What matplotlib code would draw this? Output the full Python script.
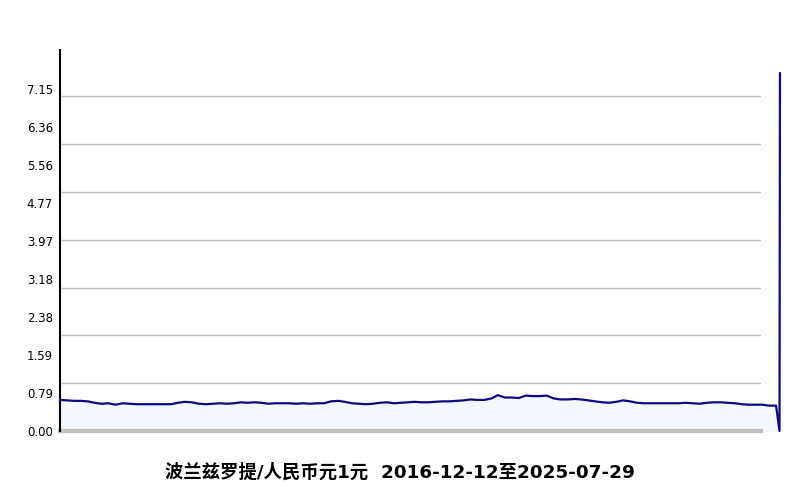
import matplotlib
matplotlib.use("Agg")
import matplotlib.pyplot as plt
import numpy as np
import pandas as pd

plt.rcParams['font.family'] = ['DejaVu Sans', 'Noto Sans CJK SC']

# monthly rate values, 2016-12-12 .. 2025-07-12
rates = [0.65, 0.64, 0.63, 0.63, 0.62, 0.59, 0.57, 0.58, 0.55, 0.58,
         0.57, 0.56, 0.56, 0.56, 0.56, 0.56, 0.56, 0.59, 0.61, 0.60,
         0.57, 0.56, 0.57, 0.58, 0.57, 0.58, 0.60, 0.59, 0.60, 0.59,
         0.57, 0.58, 0.58, 0.58, 0.57, 0.58, 0.57, 0.58, 0.58, 0.62,
         0.63, 0.61, 0.58, 0.57, 0.56, 0.57, 0.59, 0.60, 0.58, 0.59,
         0.60, 0.61, 0.60, 0.60, 0.61, 0.62, 0.62, 0.63, 0.64, 0.66,
         0.65, 0.65, 0.68, 0.75, 0.70, 0.70, 0.69, 0.74, 0.73, 0.73,
         0.74, 0.68, 0.66, 0.66, 0.67, 0.66, 0.64, 0.62, 0.60, 0.59,
         0.61, 0.64, 0.62, 0.59, 0.58, 0.58, 0.58, 0.58, 0.58, 0.58,
         0.59, 0.58, 0.57, 0.59, 0.60, 0.60, 0.59, 0.58, 0.56, 0.55,
         0.55, 0.55, 0.53, 0.53]
tail_dates = ['2025-07-27', '2025-07-29']
tail_rates = [0.0, 7.48]

ytick_vals = [0.00, 0.79, 1.59, 2.38, 3.18, 3.97, 4.77, 5.56, 6.36, 7.15]
grid_vals = [1, 2, 3, 4, 5, 6, 7]
title = '波兰兹罗提/人民币元1元  2016-12-12至2025-07-29'

monthly = pd.date_range('2016-12-01', periods=len(rates), freq='MS') + pd.Timedelta(days=11)
dates = pd.DatetimeIndex(list(monthly) + list(pd.to_datetime(tail_dates)))
values = np.array(rates + tail_rates)

fig = plt.figure(figsize=(8, 5), dpi=100)
ax = fig.add_axes([60/800, 69/500, 701/800, 381/500])

line_color = '#0b0b82'
ax.fill_between(dates, values, 0, color='#f3f8fe', clip_on=False, zorder=1)
ax.plot(dates, values, color=line_color, lw=1.6, clip_on=False, zorder=3)

for g in grid_vals:
    ax.axhline(g, color='#c0c0c0', lw=1, zorder=0)

ax.set_ylim(0, 7.966)
start = pd.Timestamp('2016-12-12')
ax.set_xlim(start, start + pd.Timedelta(days=3068))

step = 7.15 / 9
ax.set_yticks([step * k for k in range(10)])
ax.set_yticklabels([f'{v:.2f}' for v in ytick_vals], fontsize=8.5)
ax.tick_params(axis='y', length=0, pad=5)
ax.set_xticks([])

for s in ['top', 'right']:
    ax.spines[s].set_visible(False)
ax.spines['left'].set_color('black')
ax.spines['left'].set_linewidth(1.5)
ax.spines['bottom'].set_color('#c0c0c0')
ax.spines['bottom'].set_linewidth(3)
ax.spines['bottom'].set_zorder(2)

fig.text(0.5, 1 - 473/500, title, ha='center', va='center', fontsize=13.2, fontweight='bold')

fig.savefig('out.png', dpi=100)
